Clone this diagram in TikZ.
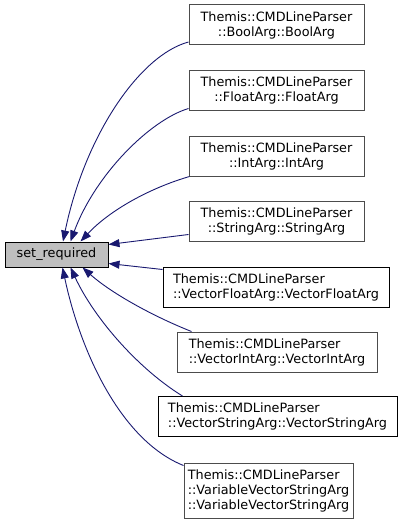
\documentclass[tikz,border=0pt]{standalone}
\usepackage{fontspec}
\setmainfont{DejaVu Sans}
\usepackage{xcolor}
\usetikzlibrary{arrows.meta,positioning,calc}
\definecolor{edgeblue}{HTML}{191970}
\definecolor{boxgrey}{HTML}{BFBFBF}

\begin{document}
\begin{tikzpicture}[
  x=1pt, y=-1pt,
  font=\fontsize{12.8}{15}\selectfont,
  box/.style={draw=black!70, line width=1pt, fill=white, align=center, inner sep=0pt, minimum height=40pt},
  lbox/.style={box, align=left},
  cur/.style={box, draw=black, fill=boxgrey, minimum height=25pt},
  arr/.style={{Triangle[length=11pt,width=8pt,fill=edgeblue]}-, draw=edgeblue, line width=0.9pt}
]
\useasboundingbox (0,0) rectangle (403,524);
\node[cur, minimum width=103pt] (req) at (56.5,254.5) {set\_required};
\node[box, minimum width=175pt] (bool) at (276.5,25) {Themis::CMDLineParser\\::BoolArg::BoolArg};
\node[box, minimum width=175pt] (flt) at (276.5,90.5) {Themis::CMDLineParser\\::FloatArg::FloatArg};
\node[box, minimum width=175pt] (int) at (276.5,156) {Themis::CMDLineParser\\::IntArg::IntArg};
\node[box, minimum width=175pt] (str) at (276.5,221) {Themis::CMDLineParser\\::StringArg::StringArg};
\node[lbox, draw=black, minimum width=226pt] (vflt) at (276,287) {Themis::CMDLineParser\\::VectorFloatArg::VectorFloatArg};
\node[lbox, minimum width=200pt] (vint) at (277,352) {Themis::CMDLineParser\\::VectorIntArg::VectorIntArg};
\node[lbox, draw=black, minimum width=239pt] (vstr) at (277.5,416.5) {Themis::CMDLineParser\\::VectorStringArg::VectorStringArg};
\node[lbox, minimum width=169pt, minimum height=55pt] (vvstr) at (268.5,490.5) {Themis::CMDLineParser\\::VariableVectorStringArg\\::VariableVectorStringArg};
% callers into set_required
\draw[arr] ([xshift=6.5pt]req.north) .. controls (85,135) and (140,55) .. ([yshift=3.5pt]bool.south west);
\draw[arr] ([xshift=14pt]req.north) .. controls (95,175) and (150,120) .. ([yshift=2.5pt]flt.south west);
\draw[arr] ([xshift=24pt]req.north) .. controls (110,210) and (150,188) .. ([xshift=1pt]int.south west);
\draw[arr] ([yshift=-3pt]req.north east) -- ([yshift=7pt]str.south west);
\draw[arr] ([yshift=4pt]req.south east) -- ([yshift=-3pt]vflt.north west);
\draw[arr] ([xshift=26pt]req.south) .. controls (110,292) and (150,315) .. ([xshift=15pt]vint.north west);
\draw[arr] ([xshift=14pt]req.south) .. controls (95,320) and (140,370) .. ([xshift=25pt]vstr.north west);
\draw[arr] ([xshift=6pt]req.south) .. controls (80,350) and (120,440) .. ([yshift=-3pt]vvstr.north west);
\end{tikzpicture}
\end{document}
